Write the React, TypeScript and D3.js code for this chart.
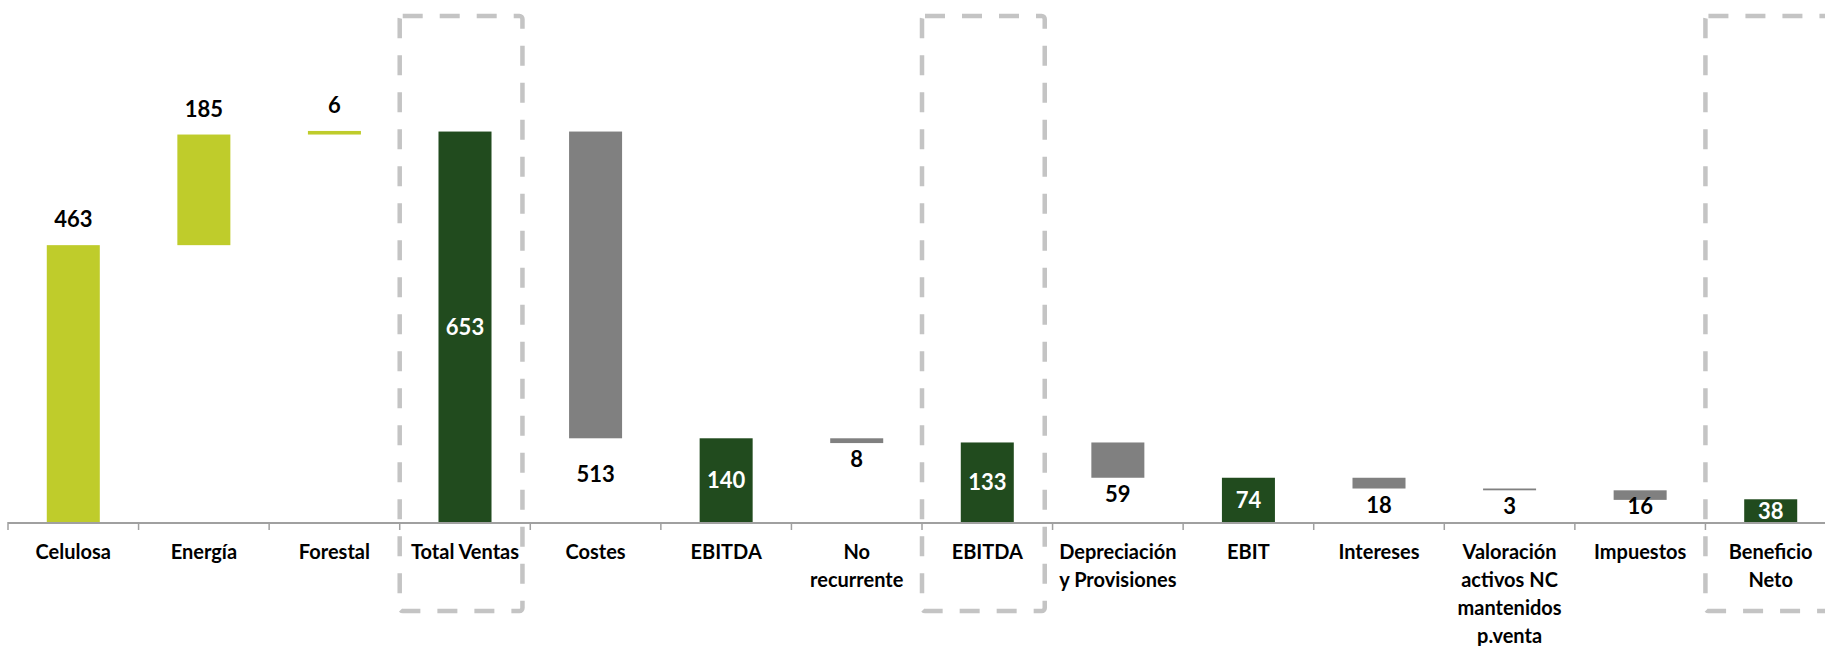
import React, { useEffect, useRef } from 'react';
import * as d3 from 'd3';

// categories of the waterfall (multi-line labels split on \n)
const categories = [
  'Celulosa',
  'Energía',
  'Forestal',
  'Total Ventas',
  'Costes',
  'EBITDA',
  'No\nrecurrente',
  'EBITDA ',
  'Depreciación\ny Provisiones',
  'EBIT',
  'Intereses',
  'Valoración\nactivos NC\nmantenidos\np.venta',
  'Impuestos',
  'Beneficio\nNeto',
];
const values = [463, 185, 6, 653, 513, 140, 8, 133, 59, 74, 18, 3, 16, 38];
// inc = adds to running total, dec = subtracts, total = full bar from zero
const kinds = ['inc', 'inc', 'inc', 'total', 'dec', 'total', 'dec', 'total', 'dec', 'total', 'dec', 'dec', 'dec', 'total'];
const boxedIdx = [3, 7, 13];

const colors: Record<string, string> = { inc: '#BFCC2B', total: '#214B1E', dec: '#808080' };
// small vertical tweaks for labels under negative bars (px)
const labelNudge: Record<number, number> = { 4: 20 };

const App: React.FC = () => {
  const ref = useRef<SVGSVGElement | null>(null);

  useEffect(() => {
    const W = 1825;
    const H = 646;
    const axisY = 522;
    const svg = d3.select(ref.current);
    svg.selectAll('*').remove();

    const x = d3.scaleBand<number>().domain(d3.range(categories.length)).range([8, 1836]).padding(0);
    const y = d3.scaleLinear().domain([0, 873]).range([axisY, 0]);
    const bw = x.bandwidth() * 0.406;

    // running totals -> start/end of each bar
    let run = 0;
    const bars = values.map((v, i) => {
      const k = kinds[i];
      let lo = 0;
      let hi = 0;
      if (k === 'total') {
        lo = 0;
        hi = v;
        run = v;
      } else if (k === 'inc') {
        lo = run;
        hi = run + v;
        run = hi;
      } else {
        hi = run;
        lo = run - v;
        run = lo;
      }
      return { i, v, k, lo, hi };
    });

    const font = 'Lato, "Open Sans", sans-serif';

    // dashed highlight boxes
    svg
      .selectAll('.box')
      .data(boxedIdx)
      .enter()
      .append('rect')
      .attr('x', (d) => x(d)!)
      .attr('y', 16)
      .attr('width', x.bandwidth() * 0.94)
      .attr('height', 611 - 16)
      .attr('rx', 3)
      .attr('fill', 'none')
      .attr('stroke', '#c4c4c4')
      .attr('stroke-width', 4.5)
      .attr('stroke-dasharray', '20 17');

    svg
      .selectAll('.bar')
      .data(bars)
      .enter()
      .append('rect')
      .attr('x', (d) => x(d.i)! + (x.bandwidth() - bw) / 2)
      .attr('y', (d) => y(d.hi))
      .attr('width', bw)
      .attr('height', (d) => Math.max(1.5, y(d.lo) - y(d.hi)))
      .attr('fill', (d) => colors[d.k]);

    // axis line + ticks at band edges
    svg
      .append('line')
      .attr('x1', 8)
      .attr('x2', W)
      .attr('y1', axisY + 1)
      .attr('y2', axisY + 1)
      .attr('stroke', '#a0a0a0')
      .attr('stroke-width', 2);
    svg
      .selectAll('.tick')
      .data(d3.range(categories.length + 1))
      .enter()
      .append('line')
      .attr('x1', (d) => 8 + d * x.step())
      .attr('x2', (d) => 8 + d * x.step())
      .attr('y1', axisY)
      .attr('y2', axisY + 8)
      .attr('stroke', '#a0a0a0')
      .attr('stroke-width', 1.5);

    // value labels
    svg
      .selectAll('.val')
      .data(bars)
      .enter()
      .append('text')
      .attr('x', (d) => x(d.i)! + x.bandwidth() / 2)
      .attr('y', (d) => {
        if (d.k === 'total') return (y(d.hi) + y(d.lo)) / 2 + 8;
        if (d.k === 'inc') return y(d.hi) - 18;
        const base = y(d.lo) + 24 + (labelNudge[d.i] || 0);
        return Math.min(base, 514);
      })
      .attr('text-anchor', 'middle')
      .attr('font-family', font)
      .attr('font-weight', 700)
      .attr('font-size', 22)
      .attr('fill', (d) => (d.k === 'total' ? '#ffffff' : '#000000'))
      .text((d) => d.v);

    // category labels
    const cat = svg
      .selectAll('.cat')
      .data(categories)
      .enter()
      .append('text')
      .attr('text-anchor', 'middle')
      .attr('font-family', font)
      .attr('font-weight', 700)
      .attr('font-size', 20)
      .attr('fill', '#000');
    cat
      .selectAll('tspan')
      .data((d, i) => d.trim().split('\n').map((line) => ({ line, i })))
      .enter()
      .append('tspan')
      .attr('x', (d) => x(d.i)! + x.bandwidth() / 2)
      .attr('y', (d, j) => 559 + j * 28)
      .text((d) => d.line);

    svg.attr('width', W).attr('height', H);
  }, []);

  return <svg ref={ref} width={1825} height={646} style={{ position: 'absolute', left: 0, top: 0, background: '#fff' }} />;
};

export default App;
